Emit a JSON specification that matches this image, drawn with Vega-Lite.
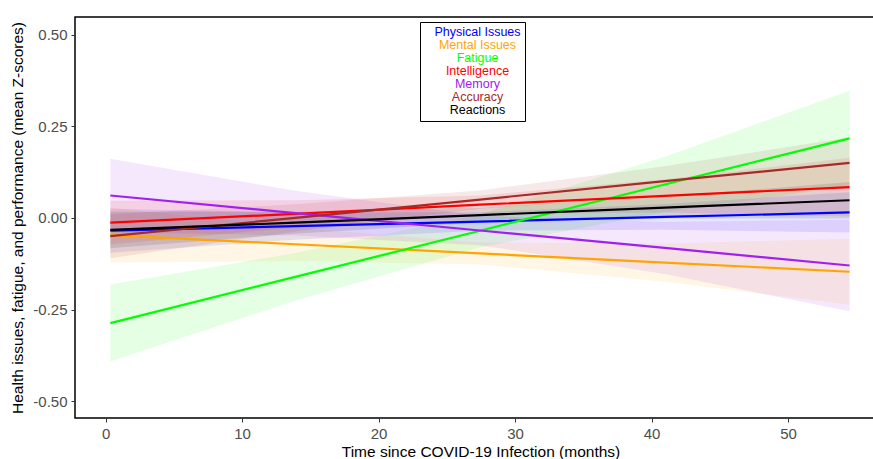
{
  "$schema": "https://vega.github.io/schema/vega-lite/v6.json",
  "autosize": "none",
  "width": 811,
  "height": 401,
  "padding": {"left": 75, "top": 17, "right": 0, "bottom": 41},
  "background": "white",
  "config": {
    "font": "Liberation Sans",
    "view": {"stroke": "black", "strokeWidth": 1.5},
    "axis": {
      "grid": false,
      "domain": false,
      "tickColor": "#333333",
      "tickSize": 4,
      "labelColor": "#4D4D4D",
      "labelFontSize": 15,
      "labelFont": "Liberation Sans",
      "titleFont": "Liberation Sans",
      "titleFontSize": 15.5,
      "titleFontWeight": "normal",
      "titleColor": "black"
    }
  },
  "data": {
    "values": [
      {"series": "Physical Issues", "t": 0.35, "est": -0.035, "lo": -0.095, "hi": 0.025},
      {"series": "Physical Issues", "t": 13.89, "est": -0.0225, "lo": -0.0595, "hi": 0.0145},
      {"series": "Physical Issues", "t": 27.43, "est": -0.01, "lo": -0.035, "hi": 0.015},
      {"series": "Physical Issues", "t": 40.96, "est": 0.0025, "lo": -0.0325, "hi": 0.0375},
      {"series": "Physical Issues", "t": 54.5, "est": 0.015, "lo": -0.04, "hi": 0.07},
      {"series": "Mental Issues", "t": 0.35, "est": -0.047, "lo": -0.122, "hi": 0.028},
      {"series": "Mental Issues", "t": 13.89, "est": -0.072, "lo": -0.118, "hi": -0.026},
      {"series": "Mental Issues", "t": 27.43, "est": -0.097, "lo": -0.127, "hi": -0.067},
      {"series": "Mental Issues", "t": 40.96, "est": -0.122, "lo": -0.174, "hi": -0.07},
      {"series": "Mental Issues", "t": 54.5, "est": -0.147, "lo": -0.237, "hi": -0.057},
      {"series": "Fatigue", "t": 0.35, "est": -0.287, "lo": -0.392, "hi": -0.182},
      {"series": "Fatigue", "t": 13.89, "est": -0.161, "lo": -0.226, "hi": -0.096},
      {"series": "Fatigue", "t": 27.43, "est": -0.035, "lo": -0.08, "hi": 0.01},
      {"series": "Fatigue", "t": 40.96, "est": 0.091, "lo": 0.015, "hi": 0.167},
      {"series": "Fatigue", "t": 54.5, "est": 0.217, "lo": 0.087, "hi": 0.347},
      {"series": "Intelligence", "t": 0.35, "est": -0.013, "lo": -0.073, "hi": 0.047},
      {"series": "Intelligence", "t": 13.89, "est": 0.011, "lo": -0.026, "hi": 0.048},
      {"series": "Intelligence", "t": 27.43, "est": 0.036, "lo": 0.011, "hi": 0.061},
      {"series": "Intelligence", "t": 40.96, "est": 0.06, "lo": 0.0145, "hi": 0.1055},
      {"series": "Intelligence", "t": 54.5, "est": 0.084, "lo": 0.004, "hi": 0.164},
      {"series": "Memory", "t": 0.35, "est": 0.061, "lo": -0.039, "hi": 0.161},
      {"series": "Memory", "t": 13.89, "est": 0.013, "lo": -0.048, "hi": 0.074},
      {"series": "Memory", "t": 27.43, "est": -0.0345, "lo": -0.0745, "hi": 0.0055},
      {"series": "Memory", "t": 40.96, "est": -0.082, "lo": -0.153, "hi": -0.011},
      {"series": "Memory", "t": 54.5, "est": -0.13, "lo": -0.255, "hi": -0.005},
      {"series": "Accuracy", "t": 0.35, "est": -0.05, "lo": -0.11, "hi": 0.01},
      {"series": "Accuracy", "t": 13.89, "est": 0.0, "lo": -0.037, "hi": 0.037},
      {"series": "Accuracy", "t": 27.43, "est": 0.05, "lo": 0.025, "hi": 0.075},
      {"series": "Accuracy", "t": 40.96, "est": 0.1, "lo": 0.059, "hi": 0.141},
      {"series": "Accuracy", "t": 54.5, "est": 0.15, "lo": 0.08, "hi": 0.22},
      {"series": "Reactions", "t": 0.35, "est": -0.033, "lo": -0.083, "hi": 0.017},
      {"series": "Reactions", "t": 13.89, "est": -0.013, "lo": -0.043, "hi": 0.017},
      {"series": "Reactions", "t": 27.43, "est": 0.0075, "lo": -0.0125, "hi": 0.0275},
      {"series": "Reactions", "t": 40.96, "est": 0.028, "lo": -0.002, "hi": 0.058},
      {"series": "Reactions", "t": 54.5, "est": 0.048, "lo": -0.002, "hi": 0.098}
    ]
  },
  "encoding": {
    "x": {
      "field": "t",
      "type": "quantitative",
      "scale": {"domain": [-2.24, 57.17], "nice": false, "zero": false},
      "axis": {"values": [0, 10, 20, 30, 40, 50], "title": "Time since COVID-19 Infection (months)", "titlePadding": 3, "labelPadding": 4}
    },
    "y": {
      "type": "quantitative",
      "scale": {"domain": [-0.546, 0.548], "nice": false, "zero": false},
      "axis": {"values": [-0.5, -0.25, 0, 0.25, 0.5], "labelExpr": "replace(format(datum.value, '.2f'), '\u2212', '-')", "title": "Health issues, fatigue, and performance (mean Z-scores)", "titlePadding": 7, "labelPadding": 4}
    },
    "color": {
      "field": "series",
      "type": "nominal",
      "scale": {
        "domain": ["Physical Issues", "Mental Issues", "Fatigue", "Intelligence", "Memory", "Accuracy", "Reactions"],
        "range": ["#0000FF", "#FFA500", "#00FF00", "#FF0000", "#A020F0", "#A52A2A", "#000000"]
      },
      "legend": {
        "title": null,
        "orient": "none",
        "legendX": 345,
        "legendY": 5,
        "direction": "vertical",
        "symbolType": "circle",
        "symbolSize": 1,
        "symbolOpacity": 0,
        "symbolStrokeWidth": 0,
        "labelOffset": 0,
        "labelAlign": "center",
        "labelFontSize": 12.5,
        "labelFont": "Liberation Sans",
        "rowPadding": 0,
        "padding": 4,
        "strokeColor": "black",
        "fillColor": "white",
        "encode": {
          "labels": {"update": {"fill": {"scale": "color", "field": "value"}, "dx": {"value": 41}}}
        }
      }
    }
  },
  "layer": [
    {
      "mark": {"type": "area", "opacity": 0.1},
      "encoding": {
        "y": {"field": "lo"},
        "y2": {"field": "hi"}
      }
    },
    {
      "mark": {"type": "line", "strokeWidth": 2.2},
      "encoding": {
        "y": {"field": "est"}
      }
    }
  ]
}
